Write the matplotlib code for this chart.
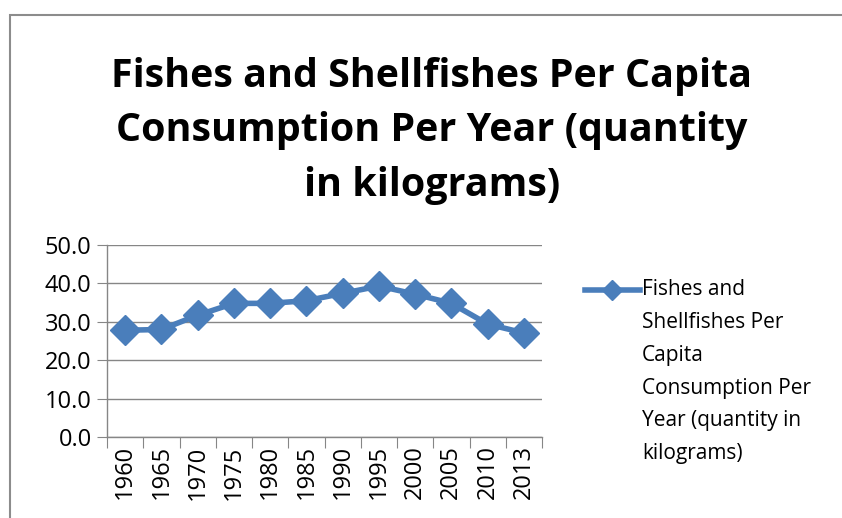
import matplotlib
matplotlib.use("Agg")
import matplotlib.pyplot as plt
from matplotlib.lines import Line2D
from matplotlib.patches import Rectangle

# Consommation par habitant (kg) par année
years = ["1960", "1965", "1970", "1975", "1980", "1985",
         "1990", "1995", "2000", "2005", "2010", "2013"]
kg_per_capita = [27.8, 28.0, 31.7, 34.8, 34.8, 35.5,
                 37.4, 39.3, 37.2, 34.8, 29.4, 27.1]
y_ticks = [0, 10, 20, 30, 40, 50]

title = "Fishes and Shellfishes Per Capita\nConsumption Per Year (quantity\nin kilograms)"
series_label = "Fishes and\nShellfishes Per\nCapita\nConsumption Per\nYear (quantity in\nkilograms)"

BLUE = "#4A7EBB"
GRID = "#868686"
FONT = "Open Sans"

fig = plt.figure(figsize=(8.42, 5.18), dpi=100)
fig.patch.set_facecolor("white")

# cadre du graphique (dépasse à droite et en bas)
fig.add_artist(Rectangle((10 / 842, -0.1), 1.2, 1 - 14.5 / 518 + 0.1,
                         transform=fig.transFigure, fill=False,
                         edgecolor="#8c8c8c", linewidth=1.5))

ax = fig.add_axes([107 / 842, 1 - 437 / 518, 435 / 842, 192 / 518])
x = range(len(years))
ax.plot(x, kg_per_capita, color=BLUE, linewidth=4, marker="D",
        markersize=15, markerfacecolor=BLUE, markeredgecolor=BLUE,
        solid_joinstyle="round")

ax.set_xlim(-0.5, len(years) - 0.5)
ax.set_ylim(0, 50)
ax.set_yticks(y_ticks)
ax.set_yticklabels([f"{v:.1f}" for v in y_ticks], fontsize=17, family=FONT)
ax.yaxis.grid(True, color=GRID, linewidth=1)
ax.set_axisbelow(True)

# graduations entre les catégories, étiquettes au centre
ax.set_xticks([i - 0.5 for i in range(len(years) + 1)])
ax.set_xticklabels([])
ax.set_xticks(list(x), minor=True)
ax.set_xticklabels(years, minor=True, rotation=90, fontsize=17, family=FONT)
ax.tick_params(axis="x", which="major", length=8, color=GRID, direction="out")
ax.tick_params(axis="x", which="minor", length=0, pad=6)
ax.tick_params(axis="y", length=7, color=GRID, direction="out", pad=4)

for side in ("top", "right"):
    ax.spines[side].set_visible(False)
for side in ("left", "bottom"):
    ax.spines[side].set_color(GRID)
    ax.spines[side].set_linewidth(1)

fig.text(0.513, 1 - 131 / 518, title, ha="center", va="center",
         fontsize=28.4, fontweight="bold", family=FONT, linespacing=1.53)

# légende dessinée à la main (repère aligné sur la première ligne)
ly = 1 - 290 / 518
fig.add_artist(Line2D([585 / 842, 640 / 842], [ly, ly], transform=fig.transFigure,
                      color=BLUE, linewidth=4))
fig.add_artist(Line2D([612 / 842], [ly], transform=fig.transFigure, color=BLUE,
                      marker="D", markersize=10, linestyle="none"))
fig.text(642 / 842, 1 - 279 / 518, series_label, ha="left", va="top",
         fontsize=15, family=FONT, linespacing=1.74)

fig.savefig("out.png", dpi=100)
